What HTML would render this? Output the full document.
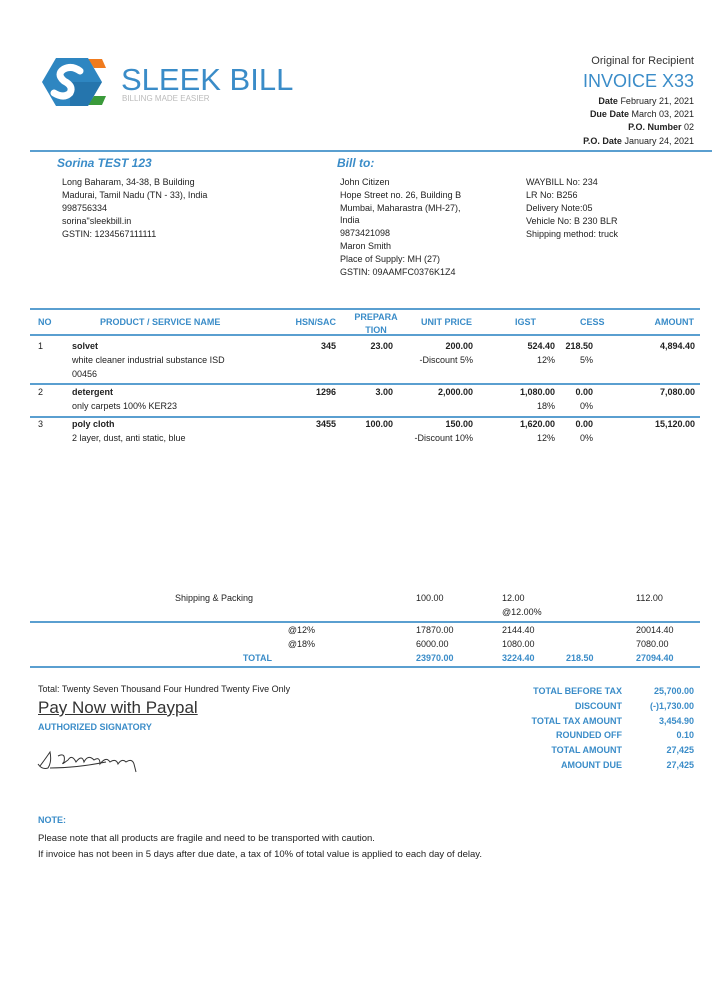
<!DOCTYPE html>
<html><head><meta charset="utf-8"><style>
body{margin:0;width:720px;height:1000px;background:#fff;position:relative;overflow:hidden;font-family:"Liberation Sans",sans-serif;color:#222}
.t{position:absolute;white-space:nowrap;line-height:1;font-size:9px}
.row .t{line-height:14px}
.r{text-align:right}
.b{font-weight:bold}
.bl{color:#3a8cc8}
.ln{position:absolute;height:2px;background:#5a9fd0}
</style></head><body>
<svg style="position:absolute;left:40px;top:56px" width="70" height="52" viewBox="0 0 70 52">
<path d="M48 3 L62 3 L66 12 L54 12 Z" fill="#f07b1e"/>
<path d="M54 40 L66 40 L62 49 L48 49 Z" fill="#3a9a3a"/>
<path d="M16 2 L48 2 L62 26 L48 50 L16 50 L2 26 Z" fill="#2e86c1"/>
<path d="M30 26 L62 26 L48 50 L30 50 Z" fill="#1f6aa0" opacity="0.6"/>
<path d="M40 15 Q32 9 24 13 Q16 18 24 25 Q34 30 30 37 Q24 43 14 37" stroke="#fff" stroke-width="7" fill="none" stroke-linecap="round"/>
</svg>
<div class="t bl" style="left:121px;top:64px;font-size:31px">SLEEK BILL</div>
<div class="t" style="left:122px;top:95px;font-size:8px;color:#bbb">BILLING MADE EASIER</div>

<div class="t r" style="right:26px;top:56px;font-size:11px;color:#333">Original for Recipient</div>
<div class="t r bl" style="right:26px;top:72px;font-size:18px">INVOICE X33</div>
<div class="t r" style="right:26px;top:97px"><b>Date</b> February 21, 2021</div>
<div class="t r" style="right:26px;top:110px"><b>Due Date</b> March 03, 2021</div>
<div class="t r" style="right:26px;top:123px"><b>P.O. Number</b> 02</div>
<div class="t r" style="right:26px;top:137px"><b>P.O. Date</b> January 24, 2021</div>

<div class="ln" style="left:30px;width:682px;top:150px"></div>

<div class="t bl b" style="left:57px;top:157px;font-size:12px;font-style:italic">Sorina TEST 123</div>
<div class="t" style="left:62px;top:176px;line-height:13px">Long Baharam, 34-38, B Building<br>Madurai, Tamil Nadu (TN - 33), India<br>998756334<br>sorina"sleekbill.in<br>GSTIN: 1234567111111</div>

<div class="t bl b" style="left:337px;top:157px;font-size:12px;font-style:italic">Bill to:</div>
<div class="t" style="left:340px;top:176px;line-height:12.8px">John Citizen<br>Hope Street no. 26, Building B<br>Mumbai, Maharastra (MH-27),<br>India<br>9873421098<br>Maron Smith<br>Place of Supply: MH (27)<br>GSTIN: 09AAMFC0376K1Z4</div>
<div class="t" style="left:526px;top:176px;line-height:13px">WAYBILL No: 234<br>LR No: B256<br>Delivery Note:05<br>Vehicle No: B 230 BLR<br>Shipping method: truck</div>

<div class="ln" style="left:30px;width:670px;top:308px"></div>
<div class="t bl b" style="left:38px;top:318px">NO</div>
<div class="t bl b" style="left:100px;top:318px">PRODUCT / SERVICE NAME</div>
<div class="t bl b r" style="right:384px;top:318px">HSN/SAC</div>
<div class="t bl b" style="left:350px;top:311px;text-align:center;line-height:13px;width:52px">PREPARA<br>TION</div>
<div class="t bl b" style="left:421px;top:318px">UNIT PRICE</div>
<div class="t bl b" style="left:515px;top:318px">IGST</div>
<div class="t bl b" style="left:580px;top:318px">CESS</div>
<div class="t bl b r" style="right:26px;top:318px">AMOUNT</div>
<div class="ln" style="left:30px;width:670px;top:334px"></div>

<div class="row">
<div class="t" style="left:38px;top:339px">1</div>
<div class="t" style="left:72px;top:339px"><b>solvet</b><br>white cleaner industrial substance ISD<br>00456</div>
<div class="t b r" style="right:384px;top:339px">345</div>
<div class="t b r" style="right:327px;top:339px">23.00</div>
<div class="t r" style="right:247px;top:339px"><b>200.00</b><br>-Discount 5%</div>
<div class="t r" style="right:165px;top:339px"><b>524.40</b><br>12%</div>
<div class="t r" style="right:127px;top:339px"><b>218.50</b><br>5%</div>
<div class="t b r" style="right:25px;top:339px">4,894.40</div>
</div>
<div class="ln" style="left:30px;width:670px;top:383px"></div>

<div class="row">
<div class="t" style="left:38px;top:385px">2</div>
<div class="t" style="left:72px;top:385px"><b>detergent</b><br>only carpets 100% KER23</div>
<div class="t b r" style="right:384px;top:385px">1296</div>
<div class="t b r" style="right:327px;top:385px">3.00</div>
<div class="t b r" style="right:247px;top:385px">2,000.00</div>
<div class="t r" style="right:165px;top:385px"><b>1,080.00</b><br>18%</div>
<div class="t r" style="right:127px;top:385px"><b>0.00</b><br>0%</div>
<div class="t b r" style="right:25px;top:385px">7,080.00</div>
</div>
<div class="ln" style="left:30px;width:670px;top:416px"></div>

<div class="row">
<div class="t" style="left:38px;top:417px">3</div>
<div class="t" style="left:72px;top:417px"><b>poly cloth</b><br>2 layer, dust, anti static, blue</div>
<div class="t b r" style="right:384px;top:417px">3455</div>
<div class="t b r" style="right:327px;top:417px">100.00</div>
<div class="t r" style="right:247px;top:417px"><b>150.00</b><br>-Discount 10%</div>
<div class="t r" style="right:165px;top:417px"><b>1,620.00</b><br>12%</div>
<div class="t r" style="right:127px;top:417px"><b>0.00</b><br>0%</div>
<div class="t b r" style="right:25px;top:417px">15,120.00</div>
</div>

<div class="row">
<div class="t" style="left:175px;top:591px">Shipping &amp; Packing</div>
<div class="t" style="left:416px;top:591px">100.00</div>
<div class="t" style="left:502px;top:591px">12.00<br>@12.00%</div>
<div class="t" style="left:636px;top:591px">112.00</div>
</div>
<div class="ln" style="left:30px;width:670px;top:621px"></div>

<div class="row">
<div class="t r" style="right:405px;top:623px">@12%<br>@18%</div>
<div class="t" style="left:416px;top:623px">17870.00<br>6000.00</div>
<div class="t" style="left:502px;top:623px">2144.40<br>1080.00</div>
<div class="t" style="left:636px;top:623px">20014.40<br>7080.00</div>
<div class="t bl b r" style="right:448px;top:651px">TOTAL</div>
<div class="t bl b" style="left:416px;top:651px">23970.00</div>
<div class="t bl b" style="left:502px;top:651px">3224.40</div>
<div class="t bl b" style="left:566px;top:651px">218.50</div>
<div class="t bl b" style="left:636px;top:651px">27094.40</div>
</div>
<div class="ln" style="left:30px;width:670px;top:666px"></div>

<div class="t" style="left:38px;top:685px">Total: Twenty Seven Thousand Four Hundred Twenty Five Only</div>
<div class="t" style="left:38px;top:699px;font-size:17px;text-decoration:underline;color:#333">Pay Now with Paypal</div>
<div class="t bl b" style="left:38px;top:723px">AUTHORIZED SIGNATORY</div>
<svg style="position:absolute;left:36px;top:748px" width="110" height="26"><path d="M4 18 Q10 10 14 4 Q16 14 12 20 Q6 22 2 16 M14 20 Q40 20 70 14 M22 8 Q30 4 28 14 Q24 18 32 12 Q36 6 40 14 Q46 6 48 14 Q52 6 58 12 Q64 8 64 16 Q70 8 74 14 Q80 10 82 16 Q86 10 90 14 Q96 10 98 16 L100 24" stroke="#333" fill="none" stroke-width="1"/></svg>

<div class="t bl b r" style="right:98px;top:684px;line-height:14.8px">TOTAL BEFORE TAX<br>DISCOUNT<br>TOTAL TAX AMOUNT<br>ROUNDED OFF<br>TOTAL AMOUNT<br>AMOUNT DUE</div>
<div class="t bl b r" style="right:26px;top:684px;line-height:14.8px">25,700.00<br>(-)1,730.00<br>3,454.90<br>0.10<br>27,425<br>27,425</div>

<div class="t bl b" style="left:38px;top:816px">NOTE:</div>
<div class="t" style="left:38px;top:831px;line-height:15.5px;font-size:9.5px">Please note that all products are fragile and need to be transported with caution.<br>If invoice has not been in 5 days after due date, a tax of 10% of total value is applied to each day of delay.</div>
</body></html>
